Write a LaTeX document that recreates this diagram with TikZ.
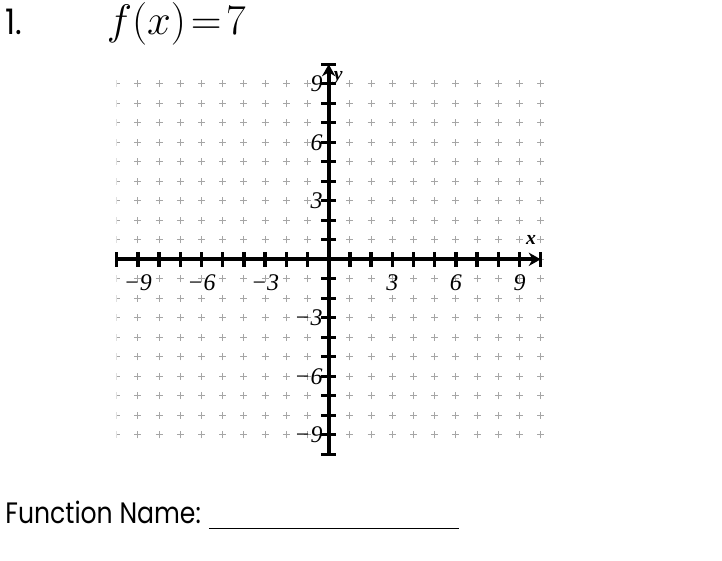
\documentclass[tikz,border=0pt]{standalone}
\usepackage{fontspec}
\setmainfont{Liberation Serif}
\newfontfamily\gotica{Poppins}
\usetikzlibrary{arrows.meta}

\begin{document}
\begin{tikzpicture}[
  x=0.53cm, y=0.4875cm,
  malla/.style = {gray!70, line width=0.6pt},
  eje/.style   = {black, line width=2.8pt},
  marca/.style = {black, line width=2.3pt},
  flecha/.style = {-{Stealth[length=8.5pt, width=9.5pt]}},
  num/.style   = {font=\fontsize{17}{19}\selectfont\itshape, inner sep=0pt},
  etq/.style   = {font=\fontsize{14}{16}\selectfont\bfseries\itshape, inner sep=0pt},
  titulo/.style = {font=\gotica\fontsize{21}{25}\selectfont, inner sep=0pt}
]
\useasboundingbox (-8.2175cm,-7.5175cm) rectangle (9.8325cm,6.4825cm);

% Encabezado
\node[titulo, anchor=base west] (num1) at (-8.09cm,5.63cm)
  {\fontsize{25}{29}\selectfont\scalebox{0.9}[1]{1.}};
\node[titulo, anchor=base west] (func) at (-5.55cm,5.63cm)
  {\fontsize{24}{28}\selectfont\scalebox{1.22}{$f(x)\!=\!7$}};

% Malla de cruces
\begin{scope}
  \clip (-10,-10) rectangle (10.5,10);
  \foreach \i in {-10,...,10}
    \foreach \j in {-9,...,9}
      \draw[malla] (\i-0.165,\j) -- (\i+0.165,\j) (\i,\j-0.18) -- (\i,\j+0.18);
\end{scope}

% Ejes
\draw[eje, flecha] (-10,0) -- (10,0);
\draw[eje, flecha] (0,-10) -- (0,10);

% Marcas
\foreach \k in {-10,...,10} {
  \ifnum\k=0\else
    \draw[marca] (\k,-0.385) -- (\k,0.385);
    \draw[marca] (-0.354,\k) -- (0.354,\k);
  \fi
}

% Numeros
\foreach \k/\t in {-9/−9,-6/−6,-3/−3,3/3,6/6,9/9} {
  \node[num] (xl\k) at (\k,-1.22) {\t};
  \node[num, anchor=east] (yl\k) at (-0.28,\k) {\t};
}
\node[etq] (xlab) at (9.55,1.0) {x};
\node[etq] (ylab) at (0.45,9.28) {y};

% Pie
\node[titulo, anchor=base west] (nombre) at (-8.09cm,-6.6cm)
  {\scalebox{0.85}[1]{Function Name:}\hspace{0.2cm}\rule[-4.3pt]{6.25cm}{0.9pt}};

\end{tikzpicture}
\end{document}
